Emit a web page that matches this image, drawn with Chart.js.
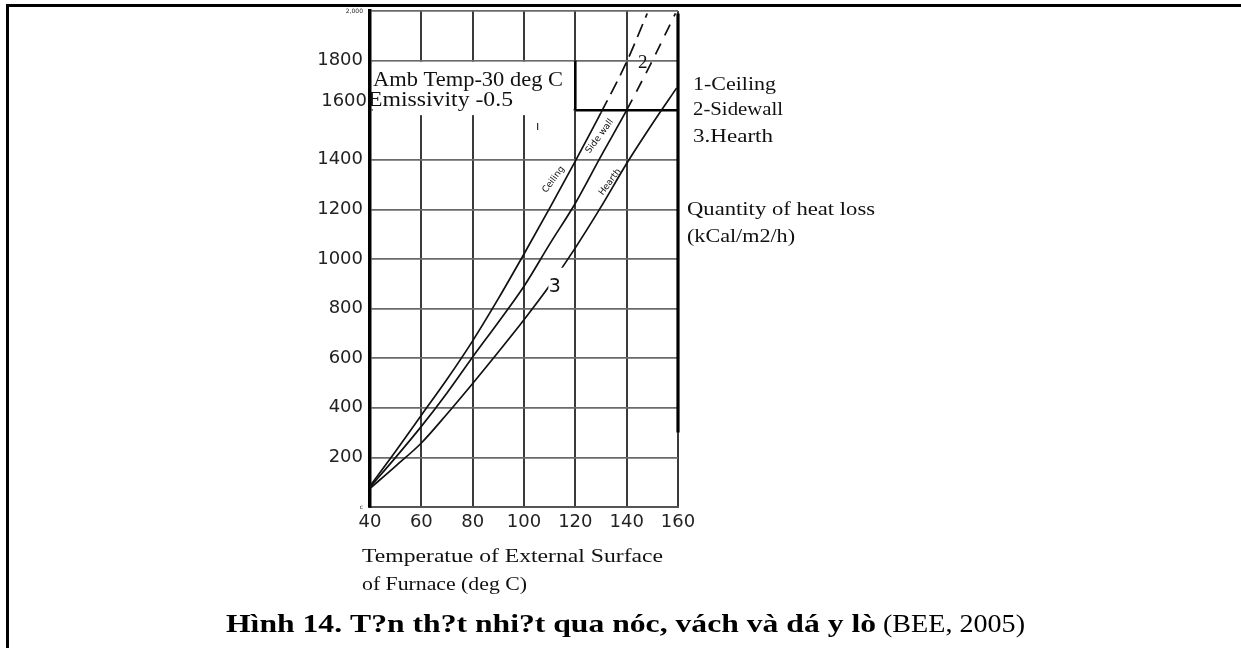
<!DOCTYPE html>
<html><head><meta charset="utf-8">
<script src="https://cdn.jsdelivr.net/npm/chart.js@4"></script>
<style>
html,body{margin:0;padding:0;background:#fff;}
#wrap{position:relative;width:1241px;height:648px;overflow:hidden;background:#fff;}
#frame{position:absolute;left:6px;top:4px;width:1235px;height:644px;border-top:3px solid #000;border-left:3px solid #000;box-sizing:border-box;}
canvas{position:absolute;left:0;top:0;}
</style></head><body>
<div id="wrap"><div id="frame"></div><canvas id="c" width="1241" height="648"></canvas></div>
<script>
// ---- data ----
const ceilingTemp  = [40, 50, 60, 70, 80, 90, 100, 110, 120, 130, 140, 148];
const ceilingLoss  = [85, 225, 370, 515, 670, 840, 1020, 1205, 1395, 1590, 1795, 1990];
const sidewallTemp = [40, 50, 60, 70, 80, 90, 100, 110, 120, 130, 140, 150, 159];
const sidewallLoss = [80, 200, 325, 460, 605, 745, 890, 1060, 1225, 1415, 1600, 1800, 1990];
const hearthTemp   = [40, 50, 60, 70, 80, 90, 100, 110, 120, 130, 140, 150, 159.5];
const hearthLoss   = [75, 165, 258, 375, 498, 625, 755, 893, 1045, 1210, 1385, 1545, 1690];
const xTicks = [40, 60, 80, 100, 120, 140, 160];
const yTicks = [0, 200, 400, 600, 800, 1000, 1200, 1400, 1600, 1800, 2000];
const yTickText = ['c', '200', '400', '600', '800', '1000', '1200', '1400', '1600', '1800', '2,000'];
const xTickText = ['40', '60', '80', '100', '120', '140', '160'];
const legendLines = ['1-Ceiling', '2-Sidewall', '3.Hearth'];
const yTitleLines = ['Quantity of heat loss', '(kCal/m2/h)'];
const xTitleLines = ['Temperatue of External Surface', 'of Furnace (deg C)'];
const noteLines = ['Amb Temp-30 deg C', 'Emissivity -0.5'];
const captionBold = 'Hình 14. T?n th?t nhi?t qua nóc, vách và dá y lò';
const captionNormal = '(BEE, 2005)';

const pts = (xs, ys) => xs.map((x, i) => ({x, y: ys[i]}));
const dashAbove = (lim, dash) => ({ borderDash: c => (c.p0.parsed.y >= lim ? dash : undefined) });

function stretch(ctx, text, x, y, width, font) {
  ctx.font = font;
  const w = ctx.measureText(text).width;
  ctx.save();
  ctx.translate(x, y);
  ctx.scale(width / w, 1);
  ctx.fillText(text, 0, 0);
  ctx.restore();
}

const overlay = {
  id: 'overlay',
  beforeDatasetsDraw(chart) {
    const {ctx, scales: {x, y}} = chart;
    ctx.save();
    ctx.fillStyle = '#fff';
    ctx.fillRect(x.getPixelForValue(40) + 3, y.getPixelForValue(1795), x.getPixelForValue(120) - x.getPixelForValue(40) - 5, y.getPixelForValue(1580) - y.getPixelForValue(1795));
    ctx.strokeStyle = '#000';
    ctx.lineWidth = 2.5;
    ctx.beginPath();
    ctx.moveTo(x.getPixelForValue(120), y.getPixelForValue(1600));
    ctx.lineTo(x.getPixelForValue(160), y.getPixelForValue(1600));
    ctx.moveTo(x.getPixelForValue(120), y.getPixelForValue(1800));
    ctx.lineTo(x.getPixelForValue(120), y.getPixelForValue(1600));
    ctx.stroke();
    ctx.lineWidth = 3.2;
    ctx.beginPath();
    ctx.moveTo(x.getPixelForValue(160), y.getPixelForValue(1990));
    ctx.lineTo(x.getPixelForValue(160), y.getPixelForValue(300));
    ctx.stroke();
    ctx.restore();
  },
  afterDatasetsDraw(chart) {
    const {ctx, scales: {x, y}} = chart;
    ctx.save();
    ctx.textBaseline = 'middle';
    // 1600 tick label sits a little above its line in the reference
    ctx.font = '18px "DejaVu Sans"';
    ctx.fillStyle = '#222';
    ctx.textAlign = 'right';
    ctx.fillText(yTickText[yTicks.indexOf(1600)], x.getPixelForValue(40) - 3, y.getPixelForValue(1600) - 9);
    ctx.textAlign = 'left';
    ctx.fillStyle = '#111';
    // notes
    stretch(ctx, noteLines[0], 373, 81, 190, '20px "Liberation Serif"');
    stretch(ctx, noteLines[1], 368, 101, 145, '20px "Liberation Serif"');
    ctx.font = '12px "DejaVu Sans"';
    ctx.fillText('ı', 536, 127);
    // curve numbers
    ctx.textAlign = 'center';
    ctx.font = '19px "Liberation Serif"';
    ctx.fillText('2', x.getPixelForValue(146.3), y.getPixelForValue(1790));
    ctx.fillStyle = '#fff';
    ctx.fillRect(x.getPixelForValue(109.5), y.getPixelForValue(965), 18, 24);
    ctx.fillStyle = '#111';
    ctx.font = '19px "DejaVu Sans"';
    ctx.fillText('3', x.getPixelForValue(112), y.getPixelForValue(885));
    // rotated curve labels
    const rot = (t, vx, vy) => {
      ctx.save();
      ctx.translate(x.getPixelForValue(vx), y.getPixelForValue(vy));
      ctx.rotate(-0.93);
      ctx.font = '9px "DejaVu Sans"';
      ctx.textAlign = 'center';
      ctx.fillText(t, 0, 0);
      ctx.restore();
    };
    rot('Ceiling', 111.5, 1320);
    rot('Side wall', 129.5, 1495);
    rot('Hearth', 133.5, 1310);
    ctx.textAlign = 'left';
    // legend / axis titles
    stretch(ctx, legendLines[0], 693, 85, 83, '19px "Liberation Serif"');
    stretch(ctx, legendLines[1], 693, 110, 90, '19px "Liberation Serif"');
    stretch(ctx, legendLines[2], 693, 137, 80, '19px "Liberation Serif"');
    stretch(ctx, yTitleLines[0], 687, 210, 188, '19px "Liberation Serif"');
    stretch(ctx, yTitleLines[1], 687, 237, 108, '19px "Liberation Serif"');
    stretch(ctx, xTitleLines[0], 362, 557, 301, '19px "Liberation Serif"');
    stretch(ctx, xTitleLines[1], 362, 585, 165, '19px "Liberation Serif"');
    // caption
    ctx.fillStyle = '#000';
    ctx.textBaseline = 'alphabetic';
    stretch(ctx, captionBold, 226, 632, 650, 'bold 26px "Liberation Serif"');
    stretch(ctx, captionNormal, 883, 632, 142, '25px "Liberation Serif"');
    ctx.restore();
  }
};

new Chart(document.getElementById('c'), {
  type: 'line',
  data: {
    datasets: [
      {label: 'Ceiling', data: pts(ceilingTemp, ceilingLoss), segment: dashAbove(1590, [14, 7])},
      {label: 'Sidewall', data: pts(sidewallTemp, sidewallLoss), segment: dashAbove(1600, [12, 9])},
      {label: 'Hearth', data: pts(hearthTemp, hearthLoss)}
    ].map(d => Object.assign(d, {borderColor: '#111', borderWidth: 1.7, pointRadius: 0, fill: false, cubicInterpolationMode: 'monotone'}))
  },
  options: {
    responsive: false, animation: false, devicePixelRatio: 1,
    layout: {padding: {left: 310, right: 563, top: 11, bottom: 111}},
    plugins: {legend: {display: false}, tooltip: {enabled: false}},
    scales: {
      x: {
        type: 'linear', min: 40, max: 160,
        afterBuildTicks: s => { s.ticks = xTicks.map(v => ({value: v})); },
        afterFit: s => { s.height = 30; },
        ticks: {
          callback: v => xTickText[xTicks.indexOf(v)],
          color: '#222', padding: 5, maxRotation: 0, autoSkip: false,
          font: {family: 'DejaVu Sans', size: 18}
        },
        grid: {color: '#3a3a3a', lineWidth: 2, drawTicks: false},
        border: {color: '#555', width: 2}
      },
      y: {
        min: 0, max: 2000,
        afterBuildTicks: s => { s.ticks = yTicks.map(v => ({value: v})); },
        afterFit: s => { s.width = 60; },
        ticks: {
          callback: v => (v === 1600 ? '' : yTickText[yTicks.indexOf(v)]),
          color: '#222', padding: 7, autoSkip: false,
          font: c => (c.tick && (c.tick.value === 2000 || c.tick.value === 0)) ? {family: 'DejaVu Sans', size: 6} : {family: 'DejaVu Sans', size: 18}
        },
        grid: {color: '#6a6a6a', lineWidth: 1.8, drawTicks: false},
        border: {color: '#000', width: 3.5}
      }
    }
  },
  plugins: [overlay]
});
</script>
</body></html>
